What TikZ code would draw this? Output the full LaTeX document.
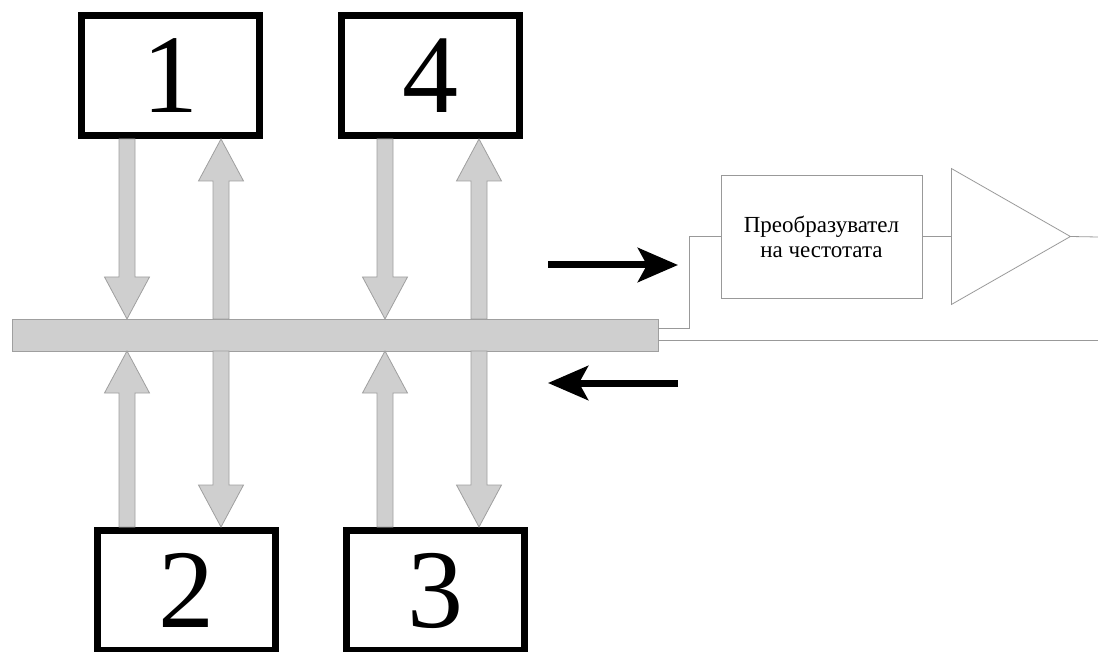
\documentclass[tikz,border=0pt]{standalone}
\usepackage{fontspec}
\setmainfont{Liberation Serif}
\usetikzlibrary{positioning,calc,arrows.meta,shapes.geometric}

\tikzset{
  unit/.style={draw,line width=7pt,fill=white,minimum width=178pt,minimum height=120pt,
    inner sep=0pt,font=\fontsize{112}{112}\selectfont},
  bus/.style={draw=gray!75,fill=gray!38,line width=0.8pt,inner sep=0pt,outer sep=0pt,
    minimum width=646pt,minimum height=32pt},
  busarrow/.style={draw=gray!75,fill=gray!38,line width=0.8pt},
  wire/.style={draw=gray!80,line width=0.8pt},
  flow/.style={line width=7pt,-{Stealth[length=40pt,width=34pt,inset=9pt]}},
}

% wide grey arrow from #1 (tail) to #2 (tip), vertical
\newcommand{\busarrow}[2]{%
  \draw[busarrow] let \p1=#1, \p2=#2, \p3=($#2!42pt!#1$) in
    ({\x1-8pt},\y1) -- ({\x1-8pt},\y3) -- ({\x1-22.5pt},\y3) -- (\p2)
    -- ({\x1+22.5pt},\y3) -- ({\x1+8pt},\y3) -- ({\x1+8pt},\y1) -- cycle;}

\begin{document}
\begin{tikzpicture}[x=1pt,y=-1pt]
  \useasboundingbox (0,0) rectangle (1098,652);

  \node[unit] (b1) at (170.5,75.5) {1};
  \node[unit,right=75pt of b1] (b4) {4};
  \node[unit] (b2) at (186,590.5) {2};
  \node[unit,right=64pt of b2] (b3) {3};
  \node[bus] (bus) at (335,335) {};

  \coordinate (c1) at (127,0);
  \coordinate (c2) at (221,0);
  \coordinate (c3) at (385,0);
  \coordinate (c4) at (479,0);

  \busarrow{(c1 |- b1.south)}{(c1 |- bus.north)}
  \busarrow{(c2 |- bus.north)}{(c2 |- b1.south)}
  \busarrow{(c1 |- b2.north)}{(c1 |- bus.south)}
  \busarrow{(c2 |- bus.south)}{(c2 |- b2.north)}
  \busarrow{(c3 |- b4.south)}{(c3 |- bus.north)}
  \busarrow{(c4 |- bus.north)}{(c4 |- b4.south)}
  \busarrow{(c3 |- b3.north)}{(c3 |- bus.south)}
  \busarrow{(c4 |- bus.south)}{(c4 |- b3.north)}

  \node[wire,minimum width=201pt,minimum height=123pt,align=center,
    font=\fontsize{23}{25}\selectfont] (conv) at (821.5,236.5)
    {Преобразувател\\на честотата};
  \node[wire,isosceles triangle,isosceles triangle stretches,inner sep=0pt,outer sep=0pt,
    minimum width=136pt,minimum height=119pt,right=29pt of conv] (amp) {};

  \coordinate (outA) at (1098,237);
  \coordinate (outB) at (1098,340);
  \draw[wire] ([yshift=7pt]bus.east) -- ++(31,0) |- (conv.west);
  \draw[wire] (conv.east) -- (amp.west);
  \draw[wire] (amp.apex) -- (outA);
  \draw[wire] ([yshift=-5pt]bus.east) -- (outB);

  \coordinate (fwdA) at (548,265);
  \coordinate (fwdB) at (678,265);
  \coordinate (backA) at (678,383);
  \coordinate (backB) at (548,383);
  \draw[flow] (fwdA) -- (fwdB);
  \draw[flow] (backA) -- (backB);
\end{tikzpicture}
\end{document}
